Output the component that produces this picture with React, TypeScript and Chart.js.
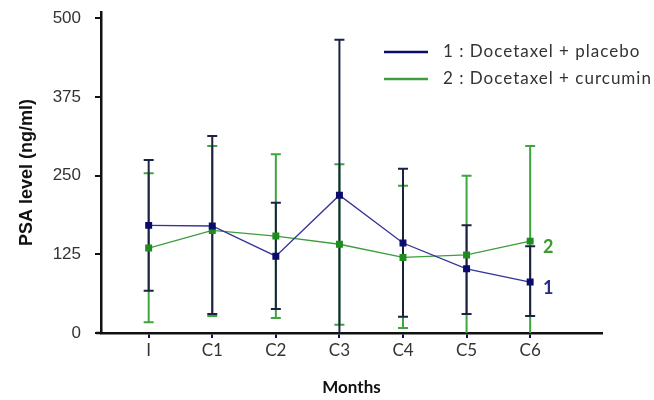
import React, { useEffect, useRef } from "react";
import { Chart, registerables } from "chart.js";

Chart.register(...registerables);

const categories = ["I", "C1", "C2", "C3", "C4", "C5", "C6"];
const placeboMean = [171, 170, 122, 219, 143, 102, 81];
const placeboLow = [67, 30, 38, -20, 26, 30, 27];
const placeboHigh = [275, 313, 207, 466, 261, 171, 138];
const curcuminMean = [135, 163, 154, 141, 120, 124, 146];
const curcuminLow = [17, 27, 24, 13, 8, -20, -20];
const curcuminHigh = [254, 297, 284, 268, 234, 250, 297];
const yTicks = [0, 125, 250, 375, 500];
const legendLabels = ["1 : Docetaxel + placebo", "2 : Docetaxel + curcumin"];
const endLabels = ["1", "2"];

const NAVY_LINE = "#33339a";
const NAVY_POINT = "#0b0b6e";
const NAVY_BAR = "#1c2342";
const GREEN_LINE = "#3c9e3c";
const GREEN_POINT = "#1f8c1f";
const GREEN_BAR = "#3fa53f";

const errorBarPlugin = {
  id: "errorBars",
  beforeDatasetsDraw(chart: any) {
    const { ctx, scales, chartArea } = chart;
    const x = scales.x;
    const y = scales.y;
    const draw = (lows: number[], highs: number[], color: string) => {
      ctx.save();
      ctx.beginPath();
      ctx.rect(chartArea.left, chartArea.top - 10, chartArea.right - chartArea.left, chartArea.bottom - chartArea.top + 10);
      ctx.clip();
      ctx.strokeStyle = color;
      ctx.lineWidth = 2;
      lows.forEach((lo, i) => {
        const px = x.getPixelForValue(i);
        const pLo = y.getPixelForValue(lo);
        const pHi = y.getPixelForValue(highs[i]);
        ctx.beginPath();
        ctx.moveTo(px, pLo);
        ctx.lineTo(px, pHi);
        ctx.moveTo(px - 5, pHi);
        ctx.lineTo(px + 5, pHi);
        if (lo >= 0) {
          ctx.moveTo(px - 5, pLo);
          ctx.lineTo(px + 5, pLo);
        }
        ctx.stroke();
      });
      ctx.restore();
    };
    draw(curcuminLow, curcuminHigh, GREEN_BAR);
    draw(placeboLow, placeboHigh, NAVY_BAR);
  },
  afterDraw(chart: any) {
    const { ctx, scales, chartArea } = chart;
    const x = scales.x;
    const y = scales.y;
    ctx.save();
    // small extension of x-axis line to the left of the y-axis
    ctx.strokeStyle = "#111";
    ctx.lineWidth = 2.5;
    ctx.beginPath();
    ctx.moveTo(chartArea.left - 5, chartArea.bottom);
    ctx.lineTo(chartArea.left, chartArea.bottom);
    ctx.stroke();
    // legend
    const legendColors = [NAVY_POINT, GREEN_LINE];
    ctx.font = "17px Lato";
    ctx.textBaseline = "middle";
    ctx.textAlign = "left";
    (ctx as any).letterSpacing = "1px";
    legendLabels.forEach((t, i) => {
      const ly = 52 + i * 27;
      ctx.strokeStyle = legendColors[i];
      ctx.lineWidth = 2.5;
      ctx.beginPath();
      ctx.moveTo(384, ly);
      ctx.lineTo(428, ly);
      ctx.stroke();
      ctx.fillStyle = "#333";
      ctx.fillText(t, 443, ly);
    });
    (ctx as any).letterSpacing = "0px";
    // end labels
    const last = categories.length - 1;
    const px = x.getPixelForValue(last) + 18;
    ctx.font = "bold 18px Lato";
    ctx.textAlign = "center";
    ctx.fillStyle = "#2a2a8e";
    ctx.fillText(endLabels[0], px, y.getPixelForValue(placeboMean[last]) + 6);
    ctx.fillStyle = "#3a9a2a";
    ctx.fillText(endLabels[1], px, y.getPixelForValue(curcuminMean[last]) + 6);
    ctx.restore();
  },
};

export default function App() {
  const ref = useRef<HTMLCanvasElement | null>(null);
  useEffect(() => {
    document.body.style.margin = "0";
    const canvas = ref.current;
    if (!canvas) return;
    const chart = new Chart(canvas, {
      type: "line",
      data: {
        datasets: [
          {
            label: legendLabels[0],
            data: placeboMean.map((v, i) => ({ x: i, y: v })),
            borderColor: NAVY_LINE,
            backgroundColor: NAVY_POINT,
            pointBackgroundColor: NAVY_POINT,
            pointBorderColor: NAVY_POINT,
            borderWidth: 1.3,
            pointStyle: "rect",
            pointRadius: 4,
            order: 1,
          },
          {
            label: legendLabels[1],
            data: curcuminMean.map((v, i) => ({ x: i, y: v })),
            borderColor: GREEN_LINE,
            backgroundColor: GREEN_POINT,
            pointBackgroundColor: GREEN_POINT,
            pointBorderColor: GREEN_POINT,
            borderWidth: 1.3,
            pointStyle: "rect",
            pointRadius: 4,
            order: 2,
          },
        ],
      },
      options: {
        animation: false,
        responsive: false,
        layout: { padding: { top: 12, right: 52, left: 0, bottom: 0 } },
        plugins: { legend: { display: false }, tooltip: { enabled: false } },
        scales: {
          x: {
            type: "linear",
            min: -0.75,
            max: 7.13,
            afterBuildTicks: (s: any) => {
              s.ticks = categories.map((_, i) => ({ value: i }));
            },
            afterFit: (s: any) => {
              s.height = 67;
              s.paddingLeft = 0;
              s.paddingRight = 0;
            },
            ticks: {
              autoSkip: false,
              maxRotation: 0,
              padding: 2,
              color: "#333",
              font: { family: "Lato", size: 17 },
              callback: (v: any) => categories[Number(v)] ?? "",
            },
            grid: { display: true, drawOnChartArea: false, drawTicks: true, tickLength: 5, color: NAVY_POINT, lineWidth: 2 },
            border: { display: true, color: "#111", width: 2.5 },
            title: {
              display: true,
              text: "Months",
              color: "#111",
              font: { family: "Lato", size: 17, weight: "bold" },
              padding: { top: 0, bottom: 2 },
            },
          },
          y: {
            type: "linear",
            min: 0,
            max: 510,
            afterBuildTicks: (s: any) => {
              s.ticks = yTicks.map((v) => ({ value: v }));
            },
            afterFit: (s: any) => {
              s.width = 101;
              s.paddingTop = 0;
              s.paddingBottom = 0;
            },
            ticks: {
              padding: 14,
              color: "#333",
              font: { family: "Liberation Sans", size: 17 },
            },
            grid: { display: true, drawOnChartArea: false, drawTicks: true, tickLength: 6, color: "#111", lineWidth: 2 },
            border: { display: true, color: "#111", width: 2.5 },
            title: {
              display: true,
              text: "PSA level (ng/ml)",
              color: "#111",
              font: { family: "Liberation Sans", size: 18, weight: "bold" },
              padding: { top: 16, bottom: 0 },
            },
          },
        },
      },
      plugins: [errorBarPlugin],
    } as any);
    return () => chart.destroy();
  }, []);
  return (
    <div style={{ width: 654, height: 400 }}>
      <canvas ref={ref} width={654} height={400} style={{ width: 654, height: 400, display: "block" }} />
    </div>
  );
}
